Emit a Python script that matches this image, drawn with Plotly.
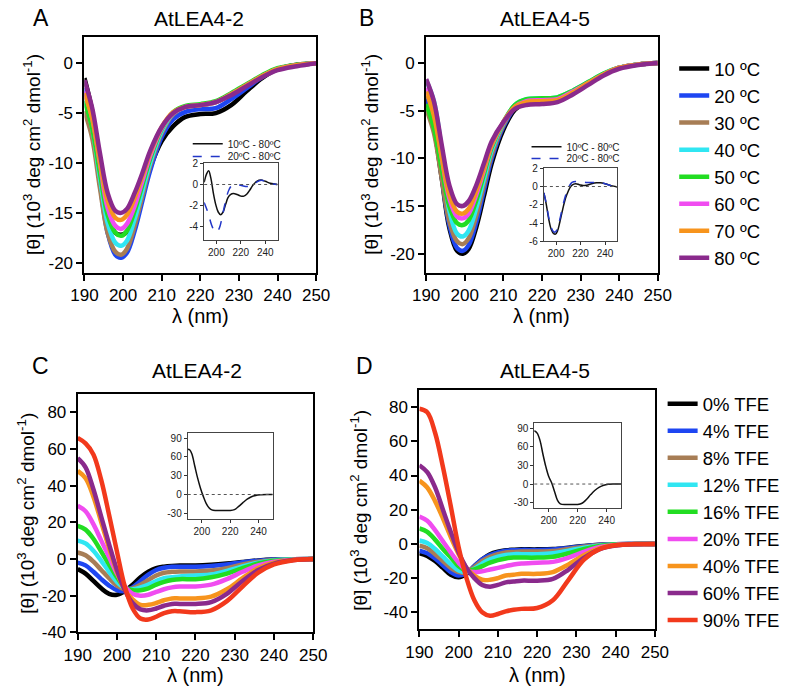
import plotly.graph_objects as go

W, H = 805, 699
FONT = "Arial, 'Liberation Sans', Helvetica, sans-serif"

# ---------------- data ----------------
wl_t = [190, 192, 194, 196, 198, 199.5, 201, 203, 205, 207, 210, 213, 216, 220, 224, 228, 232, 236, 240, 245, 250]
temp_labels = ["10 ºC", "20 ºC", "30 ºC", "40 ºC", "50 ºC", "60 ºC", "70 ºC", "80 ºC"]
temp_colors = ["#000000", "#1e46f2", "#a77d55", "#30e6f2", "#22dd22", "#f04cf0", "#f7941d", "#8a2a8c"]

# Panel A (AtLEA4-2, temperature)
a_10 = [-1.5, -4.8, -10.5, -15.2, -17.0, -17.2, -16.9, -15.2, -13.0, -10.5, -7.8, -6.3, -5.4, -5.1, -5.0, -4.2, -2.8, -1.5, -0.6, -0.15, 0]
a_20 = [-2.5, -6.0, -12.0, -17.0, -19.2, -19.5, -19.0, -16.8, -13.8, -10.8, -7.4, -5.6, -4.9, -4.6, -4.5, -3.6, -2.5, -1.4, -0.6, -0.2, 0]
a_30 = [-4.8, -7.5, -12.5, -17.0, -18.9, -19.2, -18.6, -16.3, -13.3, -10.3, -7.0, -5.1, -4.4, -4.2, -3.9, -3.1, -2.2, -1.3, -0.6, -0.2, 0]
a_40 = [-3.5, -6.5, -11.5, -16.0, -18.0, -18.3, -17.8, -15.6, -12.8, -10.0, -6.8, -5.0, -4.4, -4.2, -3.9, -3.1, -2.2, -1.3, -0.6, -0.2, 0]
a_50 = [-3.8, -6.5, -11.0, -15.2, -17.0, -17.3, -16.8, -14.8, -12.2, -9.6, -6.6, -4.9, -4.3, -4.1, -3.8, -3.0, -2.1, -1.2, -0.5, -0.15, 0]
a_60 = [-2.8, -5.5, -10.0, -14.5, -16.3, -16.6, -16.1, -14.3, -11.8, -9.3, -6.5, -5.0, -4.4, -4.2, -3.9, -3.1, -2.2, -1.3, -0.6, -0.2, 0]
a_70 = [-3.0, -5.5, -9.8, -13.8, -15.5, -15.7, -15.2, -13.5, -11.3, -9.0, -6.4, -4.9, -4.4, -4.2, -3.9, -3.1, -2.2, -1.3, -0.6, -0.2, 0]
a_80 = [-1.7, -4.5, -9.0, -13.0, -14.8, -15.0, -14.6, -13.0, -11.0, -8.8, -6.4, -5.0, -4.4, -4.2, -3.9, -3.2, -2.3, -1.4, -0.7, -0.3, 0]

# Panel B (AtLEA4-5, temperature)
b_10 = [-3.8, -6.8, -12.0, -17.3, -19.7, -20.0, -19.5, -17.2, -13.9, -10.5, -7.0, -4.9, -4.1, -3.9, -3.8, -3.0, -2.1, -1.2, -0.5, -0.15, 0]
b_20 = [-3.5, -6.5, -11.8, -17.0, -19.4, -19.7, -19.1, -16.7, -13.3, -10.0, -6.7, -4.7, -4.0, -3.9, -3.8, -3.0, -2.1, -1.2, -0.5, -0.15, 0]
b_30 = [-4.8, -7.3, -12.0, -16.6, -18.7, -19.0, -18.4, -16.0, -12.7, -9.6, -6.5, -4.6, -4.0, -3.9, -3.8, -3.0, -2.1, -1.2, -0.5, -0.15, 0]
b_40 = [-1.8, -4.0, -9.0, -15.5, -17.9, -18.2, -17.6, -15.2, -12.1, -9.1, -6.3, -4.4, -3.8, -3.7, -3.6, -2.9, -2.0, -1.1, -0.5, -0.15, 0]
b_50 = [-4.3, -6.8, -11.0, -15.0, -16.8, -17.0, -16.5, -14.4, -11.6, -8.8, -6.2, -4.4, -3.8, -3.7, -3.6, -2.9, -2.0, -1.1, -0.5, -0.15, 0]
b_60 = [-2.6, -5.0, -9.8, -14.2, -16.1, -16.3, -15.8, -13.8, -11.2, -8.6, -6.2, -4.6, -4.0, -3.9, -3.8, -3.0, -2.1, -1.2, -0.5, -0.15, 0]
b_70 = [-3.0, -5.5, -9.8, -13.8, -15.6, -15.8, -15.3, -13.4, -11.0, -8.5, -6.2, -4.6, -4.1, -4.0, -3.9, -3.1, -2.1, -1.2, -0.5, -0.15, 0]
b_80 = [-1.7, -4.0, -8.5, -12.8, -14.8, -15.0, -14.5, -12.8, -10.5, -8.2, -6.2, -4.8, -4.4, -4.3, -4.1, -3.3, -2.3, -1.3, -0.6, -0.2, 0]

# Panels C / D (TFE series)
wl_f = [190, 192, 194, 196, 198, 200, 202, 204, 206, 208, 210, 212, 214, 216, 220, 224, 228, 232, 236, 240, 245, 250]
tfe_labels = ["0% TFE", "4% TFE", "8% TFE", "12% TFE", "16% TFE", "20% TFE", "40% TFE", "60% TFE", "90% TFE"]
tfe_colors = ["#000000", "#1e46f2", "#a77d55", "#30e6f2", "#22dd22", "#f04cf0", "#f7941d", "#8a2a8c", "#f2391c"]

c_0 = [-5.5, -8, -12, -16, -19, -19.5, -17.5, -14, -10, -7, -5, -4.2, -3.8, -3.6, -3.6, -3.2, -2.5, -1.6, -0.8, -0.3, -0.1, 0]
c_4 = [-2, -3.5, -7, -11, -14.5, -17, -17.5, -15.5, -12, -8.5, -6, -4.8, -4.3, -4.2, -4.2, -3.8, -3, -1.8, -0.9, -0.3, -0.1, 0]
c_8 = [3.5, 2, -1.5, -6, -10.5, -14.5, -16.5, -16, -14, -11.5, -9, -7.5, -7, -6.8, -6.8, -6.3, -5, -3, -1.5, -0.6, -0.1, 0]
c_12 = [10, 8.5, 4.5, -1, -7, -12.5, -16, -16.5, -15.5, -14, -12, -10.5, -10, -9.5, -9, -8.5, -6.5, -4, -2, -0.8, -0.2, 0]
c_16 = [18, 16, 11, 4, -3, -10, -15.5, -17, -17, -16, -14, -12.5, -11.5, -11, -11, -10, -8, -5, -2.5, -1, -0.3, 0]
c_20 = [29, 26, 19, 10, 1, -8, -15, -19, -20, -19.5, -18, -16.5, -15.5, -15, -15, -14, -11, -7, -3.5, -1.5, -0.4, 0]
c_40 = [48, 44, 34, 20, 6, -7, -17, -22, -25, -25, -24, -22.5, -21.5, -21.5, -21.5, -20.5, -16.5, -10.5, -5, -2, -0.5, 0]
c_60 = [55, 50, 38, 23, 8, -6, -17, -24, -27.5, -28, -27, -25.5, -24.5, -24.5, -24.5, -23.5, -19, -12, -6, -2.5, -0.6, 0]
c_90 = [66, 63, 57, 43, 24, 4, -15, -27, -32.5, -33, -31.5, -29.5, -28.5, -28.5, -29, -28, -23, -15, -7.5, -3, -0.7, 0]

d_0 = [-5.5, -7, -10, -14, -18, -19.5, -17.5, -13, -9, -6, -4.5, -3.7, -3.4, -3.2, -3.2, -3, -2.2, -1.2, -0.5, -0.2, 0, 0]
d_4 = [-4, -5.5, -8.5, -12.5, -16.5, -18.5, -17, -13, -9, -6.5, -5, -4, -3.7, -3.5, -3.5, -3.2, -2.4, -1.3, -0.5, -0.2, 0, 0]
d_8 = [-1, -2.5, -6, -10, -14, -16.5, -16.5, -13.5, -10, -7.5, -6, -5, -4.7, -4.5, -4.5, -4.2, -3, -1.7, -0.7, -0.2, 0, 0]
d_12 = [2, 0.5, -3, -7.5, -12, -15.5, -16.5, -14.5, -11.5, -9, -7.5, -6.5, -6, -6, -6, -5.5, -4, -2.2, -0.9, -0.3, 0, 0]
d_16 = [9, 7, 2.5, -3, -8, -13, -15.5, -15, -13, -11, -9.5, -8.5, -8, -8, -8, -7.5, -5.5, -3, -1.2, -0.4, -0.1, 0]
d_20 = [16, 13.5, 8, 1.5, -5, -11, -15.5, -16.5, -16, -15, -14, -13, -12, -11.5, -11, -10.5, -8, -4.5, -1.8, -0.6, -0.1, 0]
d_40 = [37, 33, 25, 15, 4, -6, -14, -18.5, -21, -21, -20, -18.5, -18, -17.5, -17.5, -16.5, -12, -6.5, -2.5, -0.8, -0.2, 0]
d_60 = [46, 42, 33, 20, 7, -5, -14, -20, -24, -25, -24, -22.5, -22, -21.5, -21.5, -20.5, -15, -8, -3, -1, -0.2, 0]
d_90 = [79, 77, 65, 45, 22, -2, -20, -33, -40, -42, -41, -39.5, -38.5, -38, -37.5, -33, -21, -9, -3, -0.8, -0.1, 0]

# Insets (difference spectra)
ia_x = [190, 192, 193.7, 195.5, 197.5, 199.5, 201.5, 203.5, 205.5, 207.5, 209.5, 211.5, 214, 217, 220, 222.5, 225, 227.5, 230, 233, 236.5, 240, 244, 250]
ia_diff10 = [0.2, 1.0, 1.3, 0.6, -0.8, -1.9, -2.6, -2.85, -2.6, -1.9, -1.25, -0.95, -0.85, -0.95, -1.1, -1.1, -0.9, -0.5, -0.05, 0.3, 0.42, 0.3, 0.12, 0.0]
ia_x2 = [190, 192, 194, 196, 198, 200.3, 202.5, 204.5, 206.5, 208.5, 210.5, 213, 216, 219, 222, 225, 228, 231, 234, 237, 240, 244, 250]
ia_diff20 = [-1.7, -2.3, -3.0, -3.8, -4.3, -4.5, -4.1, -3.2, -2.1, -1.1, -0.45, -0.05, 0.0, -0.05, -0.15, -0.2, -0.15, 0.05, 0.3, 0.4, 0.3, 0.1, 0.0]

ib_x = [190, 192, 194, 196, 198, 199.5, 201, 203, 205, 207, 209, 211, 213, 216, 219, 222, 225, 229, 233, 236, 240, 245, 250]
ib_diff10 = [-0.7, -2.0, -3.6, -4.7, -5.15, -5.2, -4.9, -3.9, -2.7, -1.6, -0.8, -0.2, 0.15, 0.3, 0.2, 0.1, 0.15, 0.3, 0.4, 0.4, 0.3, 0.1, -0.05]
ib_diff20 = [-0.7, -1.9, -3.4, -4.5, -4.95, -4.95, -4.6, -3.6, -2.4, -1.3, -0.5, 0.1, 0.45, 0.55, 0.5, 0.5, 0.45, 0.45, 0.45, 0.45, 0.3, 0.1, -0.05]

ic_x = [190, 191.5, 193, 195, 197, 199, 201, 203, 205, 207, 210, 215, 220, 223, 226, 229, 232, 235, 238, 242, 246, 250]
ic_diff = [72, 71, 64, 45, 26, 10, -3, -14, -21, -24.5, -25.5, -25.5, -25.5, -24, -19, -13, -7.5, -3.5, -1.5, -0.5, -0.1, 0]
id_x = [190, 192, 194, 196, 198, 200, 202, 204, 206, 208, 212, 216, 220, 223, 226, 229, 232, 235, 238, 241, 245, 250]
id_diff = [86, 82, 70, 48, 28, 12, 2, -12, -26, -32, -33, -33, -33, -31, -25, -17, -10, -5, -2, -0.5, 0, 0]

x_ticks = [190, 200, 210, 220, 230, 240, 250]
x_ticktext = ["190", "200", "210", "220", "230", "240", "250"]
ab_yticks = [0, -5, -10, -15, -20]
ab_yticktext = ["0", "-5", "-10", "-15", "-20"]
c_yticks = [80, 60, 40, 20, 0, -20, -40]
c_yticktext = ["80", "60", "40", "20", "0", "-20", "-40"]
d_yticks = [80, 60, 40, 20, 0, -20, -40]
d_yticktext = ["80", "60", "40", "20", "0", "-20", "-40"]
inset_xticks = [200, 220, 240]
inset_xticktext = ["200", "220", "240"]
ia_yticks = [2, 0, -2, -4]
ia_yticktext = ["2", "0", "-2", "-4"]
ib_yticks = [2, 0, -2, -4, -6]
ib_yticktext = ["2", "0", "-2", "-4", "-6"]
icd_yticks = [90, 60, 30, 0, -30]
icd_yticktext = ["90", "60", "30", "0", "-30"]

# ---------------- figure ----------------
fig = go.Figure()

A_series = [a_10, a_20, a_30, a_40, a_50, a_60, a_70, a_80]
B_series = [b_10, b_20, b_30, b_40, b_50, b_60, b_70, b_80]
C_series = [c_0, c_4, c_8, c_12, c_16, c_20, c_40, c_60, c_90]
D_series = [d_0, d_4, d_8, d_12, d_16, d_20, d_40, d_60, d_90]

LW = 4.5
for ys, lab, col in zip(A_series, temp_labels, temp_colors):
    fig.add_trace(go.Scatter(x=wl_t, y=ys, mode="lines", line=dict(color=col, width=LW, shape="spline"),
                             name=lab, showlegend=False, xaxis="x", yaxis="y"))
for ys, lab, col in zip(B_series, temp_labels, temp_colors):
    fig.add_trace(go.Scatter(x=wl_t, y=ys, mode="lines", line=dict(color=col, width=LW, shape="spline"),
                             name=lab, showlegend=True, legend="legend", xaxis="x2", yaxis="y2"))
for ys, lab, col in zip(C_series, tfe_labels, tfe_colors):
    fig.add_trace(go.Scatter(x=wl_f, y=ys, mode="lines", line=dict(color=col, width=LW, shape="spline"),
                             name=lab, showlegend=True, legend="legend2", xaxis="x3", yaxis="y3"))
for ys, lab, col in zip(D_series, tfe_labels, tfe_colors):
    fig.add_trace(go.Scatter(x=wl_f, y=ys, mode="lines", line=dict(color=col, width=LW, shape="spline"),
                             name=lab, showlegend=False, xaxis="x4", yaxis="y4"))

# insets (each legend entry in its own small legend so the rows sit tight)
fig.add_trace(go.Scatter(x=ia_x, y=ia_diff10, mode="lines", line=dict(color="#111111", width=1.5, shape="spline"),
                         name="10ºC - 80ºC", legend="legend3", xaxis="x5", yaxis="y5"))
fig.add_trace(go.Scatter(x=ia_x2, y=ia_diff20, mode="lines", line=dict(color="#2236c8", width=1.5, dash="dash", shape="spline"),
                         name="20ºC - 80ºC", legend="legend4", xaxis="x5", yaxis="y5"))
fig.add_trace(go.Scatter(x=ib_x, y=ib_diff10, mode="lines", line=dict(color="#111111", width=1.5, shape="spline"),
                         name="10ºC - 80ºC", legend="legend5", xaxis="x6", yaxis="y6"))
fig.add_trace(go.Scatter(x=ib_x, y=ib_diff20, mode="lines", line=dict(color="#2236c8", width=1.5, dash="dash", shape="spline"),
                         name="20ºC - 80ºC", legend="legend6", xaxis="x6", yaxis="y6"))
fig.add_trace(go.Scatter(x=ic_x, y=ic_diff, mode="lines", line=dict(color="#111111", width=1.5, shape="spline"),
                         showlegend=False, xaxis="x7", yaxis="y7"))
fig.add_trace(go.Scatter(x=id_x, y=id_diff, mode="lines", line=dict(color="#111111", width=1.5, shape="spline"),
                         showlegend=False, xaxis="x8", yaxis="y8"))


def dx(x0, x1):
    return [x0 / W, x1 / W]


def dy(y0, y1):
    return [1 - y1 / H, 1 - y0 / H]


def main_x(dom, anchor):
    return dict(domain=dom, anchor=anchor, range=[190, 250], tickvals=x_ticks, ticktext=x_ticktext,
                ticks="outside", ticklen=6, tickwidth=2, tickcolor="black", showline=True, linewidth=2,
                linecolor="black", mirror=True, showgrid=False, zeroline=False,
                tickfont=dict(size=17, color="black", family=FONT))


def main_y(dom, anchor, rng, tv, tt):
    return dict(domain=dom, anchor=anchor, range=rng, tickvals=tv, ticktext=tt,
                ticks="outside", ticklen=6, tickwidth=2, tickcolor="black", showline=True, linewidth=2,
                linecolor="black", mirror=True, showgrid=False, zeroline=False,
                tickfont=dict(size=17, color="black", family=FONT))


def ins_x(dom, anchor):
    return dict(domain=dom, anchor=anchor, range=[190, 250], tickvals=inset_xticks, ticktext=inset_xticktext,
                ticks="outside", ticklen=3, tickwidth=1, tickcolor="#333", showline=True, linewidth=1,
                linecolor="#444", mirror=True, showgrid=False, zeroline=False,
                tickfont=dict(size=10, color="#222", family=FONT))


def ins_y(dom, anchor, rng, tv, tt):
    return dict(domain=dom, anchor=anchor, range=rng, tickvals=tv, ticktext=tt,
                ticks="outside", ticklen=3, tickwidth=1, tickcolor="#333", showline=True, linewidth=1,
                linecolor="#444", mirror=True, showgrid=False, zeroline=False,
                tickfont=dict(size=10, color="#222", family=FONT))


def small_legend(xpx, ypx):
    return dict(x=xpx / W, y=1 - ypx / H, xanchor="left", yanchor="middle", bgcolor="rgba(0,0,0,0)",
                font=dict(size=10, family=FONT, color="#222"), borderwidth=0)


layout = dict(
    width=W, height=H, margin=dict(l=0, r=0, t=0, b=0),
    paper_bgcolor="white", plot_bgcolor="rgba(0,0,0,0)",
    font=dict(family=FONT, color="black"),
    xaxis=main_x(dx(73, 313), "y"),
    yaxis=main_y(dy(32, 273), "x", [-21, 2.6], ab_yticks, ab_yticktext),
    xaxis2=main_x(dx(427, 667), "y2"),
    yaxis2=main_y(dy(32, 273), "x2", [-22, 2.7], ab_yticks, ab_yticktext),
    xaxis3=main_x(dx(66, 310), "y3"),
    yaxis3=main_y(dy(397, 641), "x3", [-40, 90], c_yticks, c_yticktext),
    xaxis4=main_x(dx(420, 664), "y4"),
    yaxis4=main_y(dy(393, 638), "x4", [-50, 90], d_yticks, d_yticktext),
    xaxis5=ins_x(dx(197, 273), "y5"),
    yaxis5=ins_y(dy(161, 239), "x5", [-5.2, 2], ia_yticks, ia_yticktext),
    xaxis6=ins_x(dx(549, 625), "y6"),
    yaxis6=ins_y(dy(166, 241), "x6", [-6, 2], ib_yticks, ib_yticktext),
    xaxis7=ins_x(dx(180, 268), "y7"),
    yaxis7=ins_y(dy(437, 525), "x7", [-39, 98], icd_yticks, icd_yticktext),
    xaxis8=ins_x(dx(539, 629), "y8"),
    yaxis8=ins_y(dy(427, 514), "x8", [-39, 98], icd_yticks, icd_yticktext),
    legend=dict(x=684 / W, y=1 - 45 / H, xanchor="left", yanchor="top", bgcolor="rgba(0,0,0,0)",
                font=dict(size=18.5, family=FONT, color="black"), tracegroupgap=0),
    legend2=dict(x=672 / W, y=1 - 388 / H, xanchor="left", yanchor="top", bgcolor="rgba(0,0,0,0)",
                 font=dict(size=18.5, family=FONT, color="black"), tracegroupgap=0),
    legend3=small_legend(180, 141),
    legend4=small_legend(180, 154),
    legend5=small_legend(531, 144),
    legend6=small_legend(531, 156),
)
fig.update_layout(**layout)

# dotted zero lines in insets
for ax in ["5", "6", "7", "8"]:
    fig.add_shape(type="line", xref="x%s domain" % ax, yref="y%s" % ax, x0=0, x1=1, y0=0, y1=0,
                  line=dict(color="#555", width=1, dash="dot"))

ylab = "[θ] (10<sup>3</sup> deg cm<sup>2</sup> dmol<sup>-1</sup>)"
ann = []


def txt(x, y, s, size, angle=0):
    ann.append(dict(x=x / W, y=1 - y / H, xref="paper", yref="paper", text=s, showarrow=False,
                    textangle=angle, font=dict(size=size, family=FONT, color="black"),
                    xanchor="center", yanchor="middle"))


txt(192, 13, "AtLEA4-2", 21)
txt(550, 13, "AtLEA4-5", 21)
txt(190, 373, "AtLEA4-2", 21)
txt(550, 373, "AtLEA4-5", 21)
txt(28, 12, "A", 23)
txt(365, 12, "B", 23)
txt(27, 368, "C", 23)
txt(363, 368, "D", 23)
txt(18, 152, ylab, 19, -90)
txt(368, 152, ylab, 19, -90)
txt(13, 519, ylab, 19, -90)
txt(358, 516, ylab, 19, -90)
txt(193, 317, "λ (nm)", 20)
txt(547, 317, "λ (nm)", 20)
txt(188, 685, "λ (nm)", 20)
txt(542, 685, "λ (nm)", 20)
fig.update_layout(annotations=ann)

page_fix = (
    "var de=document.documentElement, b=document.body;"
    "de.style.margin='0';de.style.padding='0';de.style.overflow='hidden';de.style.height='699px';de.style.width='805px';"
    "b.style.margin='0';b.style.padding='0';b.style.overflow='hidden';b.style.height='699px';b.style.width='805px';"
    "var g=document.getElementById('{plot_id}');"
    "if(g){g.style.position='fixed';g.style.left='0px';g.style.top='0px';}"
)

fig.write_html("out.html", config={"displayModeBar": False}, post_script=page_fix)
